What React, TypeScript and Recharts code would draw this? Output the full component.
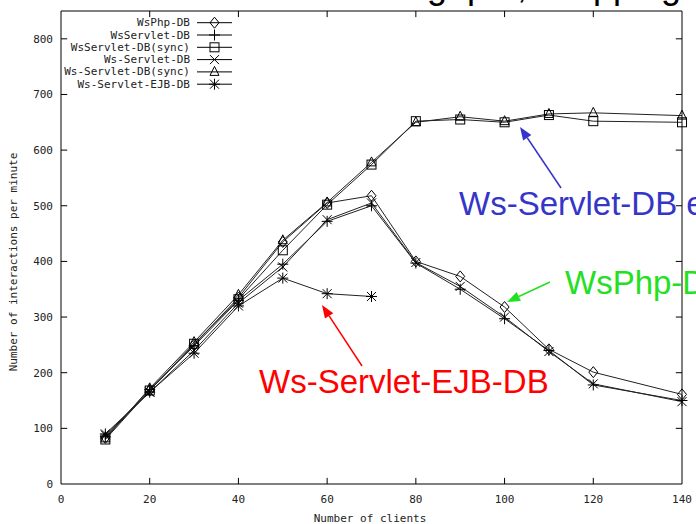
import React from 'react';
import { LineChart, Line, XAxis, YAxis, ReferenceArea, ReferenceLine } from 'recharts';

const clients = [10, 20, 30, 40, 50, 60, 70, 80, 90, 100, 110, 120, 140];
const wsPhpDB = [83, 168, 250, 335, 435, 505, 518, 400, 373, 318, 242, 201, 161];
const wsServletDB = [85, 170, 248, 330, 395, 472, 500, 397, 350, 297, 240, 178, 150];
const wsServletDBSync = [80, 168, 252, 332, 420, 502, 574, 652, 655, 650, 663, 652, 650];
const wsDashServletDB = [88, 165, 240, 325, 390, 475, 505, 398, 355, 300, 238, 180, 148];
const wsDashServletDBSync = [82, 172, 255, 340, 438, 506, 578, 650, 660, 652, 665, 667, 662];
const wsServletEJBDB = [90, 165, 235, 320, 370, 342, 337, null, null, null, null, null, null];

const xTicks = [0, 20, 40, 60, 80, 100, 120, 140];
const yTicks = [0, 100, 200, 300, 400, 500, 600, 700, 800];

const seriesNames = [
  'WsPhp-DB',
  'WsServlet-DB',
  'WsServlet-DB(sync)',
  'Ws-Servlet-DB',
  'Ws-Servlet-DB(sync)',
  'Ws-Servlet-EJB-DB',
];
const seriesShapes = ['diamond', 'plus', 'square', 'cross', 'triangle', 'star'];
const seriesValues = [wsPhpDB, wsServletDB, wsServletDBSync, wsDashServletDB, wsDashServletDBSync, wsServletEJBDB];
const seriesKeys = ['s0', 's1', 's2', 's3', 's4', 's5'];

const data = clients.map((c, i) => {
  const row: any = { x: c };
  seriesValues.forEach((vals, k) => {
    row[seriesKeys[k]] = vals[i];
  });
  return row;
});

const MONO = '"DejaVu Sans Mono", "Liberation Mono", monospace';
const SANS = '"Liberation Sans", Arial, sans-serif';

function Marker({ shape, cx, cy, r = 4.5 }: { shape: string; cx: number; cy: number; r?: number }) {
  const st = { stroke: '#000', strokeWidth: 1, fill: 'none' } as any;
  switch (shape) {
    case 'diamond':
      return <polygon points={`${cx},${cy - r - 1} ${cx + r},${cy} ${cx},${cy + r + 1} ${cx - r},${cy}`} {...st} />;
    case 'plus':
      return <path d={`M${cx - r - 1},${cy}H${cx + r + 1}M${cx},${cy - r - 1}V${cy + r + 1}`} {...st} />;
    case 'square':
      return <rect x={cx - r} y={cy - r} width={2 * r} height={2 * r} {...st} />;
    case 'cross':
      return <path d={`M${cx - r},${cy - r}L${cx + r},${cy + r}M${cx + r},${cy - r}L${cx - r},${cy + r}`} {...st} />;
    case 'triangle':
      return <polygon points={`${cx},${cy - r - 1} ${cx + r},${cy + r - 1} ${cx - r},${cy + r - 1}`} {...st} />;
    case 'star':
      return (
        <path
          d={`M${cx - r - 1},${cy}H${cx + r + 1}M${cx},${cy - r - 1}V${cy + r + 1}M${cx - r},${cy - r}L${cx + r},${cy + r}M${cx + r},${cy - r}L${cx - r},${cy + r}`}
          {...st}
        />
      );
    default:
      return null;
  }
}

const makeDot = (shape: string, key: string) => (props: any) => {
  const { cx, cy, index, value } = props;
  if (cx == null || cy == null || value == null || isNaN(cx) || isNaN(cy)) {
    return <g key={`${key}-${index}`} />;
  }
  return (
    <g key={`${key}-${index}`}>
      <Marker shape={shape} cx={cx} cy={cy} />
    </g>
  );
};

function Arrow({ x1, y1, x2, y2, color }: { x1: number; y1: number; x2: number; y2: number; color: string }) {
  const dx = x2 - x1;
  const dy = y2 - y1;
  const len = Math.sqrt(dx * dx + dy * dy);
  const ux = dx / len;
  const uy = dy / len;
  const hl = 13;
  const hw = 5;
  const bx = x2 - ux * hl;
  const by = y2 - uy * hl;
  const p1 = `${bx - uy * hw},${by + ux * hw}`;
  const p2 = `${bx + uy * hw},${by - ux * hw}`;
  return (
    <g>
      <line x1={x1} y1={y1} x2={bx} y2={by} stroke={color} strokeWidth={1.5} />
      <polygon points={`${x2},${y2} ${p1} ${p2}`} fill={color} />
    </g>
  );
}

export default function App() {
  const xTickMarks = xTicks.filter((t) => t > 0 && t < 140);
  const yTickMarks = yTicks.filter((t) => t > 0);
  return (
    <div
      style={{
        position: 'absolute',
        left: 0,
        top: 0,
        width: 696,
        height: 524,
        background: '#fff',
        overflow: 'hidden',
      }}
    >
      <LineChart width={696} height={524} data={data} margin={{ top: 11, right: 14, bottom: 0, left: 0 }}>
        <XAxis
          dataKey="x"
          type="number"
          domain={[0, 140]}
          ticks={xTicks}
          interval={0}
          axisLine={false}
          tickLine={false}
          tickMargin={5}
          height={40}
          tick={{ fontSize: 11, fontFamily: MONO, fill: '#222' }}
        />
        <YAxis
          type="number"
          domain={[0, 850]}
          ticks={yTicks}
          interval={0}
          axisLine={false}
          tickLine={false}
          width={61}
          tick={{ fontSize: 11, fontFamily: MONO, fill: '#222' }}
        />
        <ReferenceArea x1={0} x2={140} y1={0} y2={850} fill="none" fillOpacity={0} stroke="#000" strokeWidth={1} />
        {xTickMarks.map((t) => (
          <ReferenceLine
            key={`xb${t}`}
            segment={[
              { x: t, y: 0 },
              { x: t, y: 11 },
            ]}
            stroke="#000"
          />
        ))}
        {xTickMarks.map((t) => (
          <ReferenceLine
            key={`xt${t}`}
            segment={[
              { x: t, y: 850 },
              { x: t, y: 839 },
            ]}
            stroke="#000"
          />
        ))}
        {yTickMarks.map((t) => (
          <ReferenceLine
            key={`yl${t}`}
            segment={[
              { x: 0, y: t },
              { x: 1.4, y: t },
            ]}
            stroke="#000"
          />
        ))}
        {yTickMarks.map((t) => (
          <ReferenceLine
            key={`yr${t}`}
            segment={[
              { x: 140, y: t },
              { x: 138.6, y: t },
            ]}
            stroke="#000"
          />
        ))}
        {seriesKeys.map((k, i) => (
          <Line
            key={k}
            dataKey={k}
            name={seriesNames[i]}
            type="linear"
            stroke="#222"
            strokeWidth={1}
            dot={makeDot(seriesShapes[i], k)}
            activeDot={false}
            isAnimationActive={false}
            connectNulls={false}
          />
        ))}
      </LineChart>
      <svg
        width={696}
        height={524}
        style={{ position: 'absolute', left: 0, top: 0, pointerEvents: 'none' }}
      >
        {/* legend */}
        {seriesNames.map((n, i) => {
          const y = 22.7 + i * 12.3;
          return (
            <g key={n}>
              <text x={190} y={y + 3.5} textAnchor="end" fontSize={11} fontFamily={MONO} fill="#222">
                {n}
              </text>
              <line x1={197} y1={y} x2={232} y2={y} stroke="#000" strokeWidth={1} />
              <Marker shape={seriesShapes[i]} cx={214.5} cy={y} />
            </g>
          );
        })}
        {/* axis titles */}
        <text x={370} y={522} textAnchor="middle" fontSize={11} fontFamily={MONO} fill="#222">
          Number of clients
        </text>
        <text
          x={17}
          y={262}
          textAnchor="middle"
          fontSize={11}
          fontFamily={MONO}
          fill="#222"
          transform="rotate(-90 17 262)"
        >
          Number of interactions per minute
        </text>
        {/* clipped title */}
        <text x={527} y={-2} textAnchor="end" fontSize={36} fontFamily={SANS} fill="#000">
          Throughput,
        </text>
        <text x={535} y={-2} textAnchor="start" fontSize={36} fontFamily={SANS} fill="#000">
          shopping mix
        </text>
        {/* annotations */}
        <text x={459} y={215} fontSize={33} fontFamily={SANS} fill="#3535c8">
          Ws-Servlet-DB entity
        </text>
        <Arrow x1={561} y1={188} x2={520} y2={127} color="#3535c8" />
        <text x={565} y={294} fontSize={33} fontFamily={SANS} fill="#22e022">
          WsPhp-DB
        </text>
        <Arrow x1={550} y1={282} x2={507} y2={302} color="#22e022" />
        <text x={259} y={393} fontSize={33} fontFamily={SANS} fill="#ff0000">
          Ws-Servlet-EJB-DB
        </text>
        <Arrow x1={362} y1={366} x2={322} y2={305} color="#ff0000" />
      </svg>
    </div>
  );
}
